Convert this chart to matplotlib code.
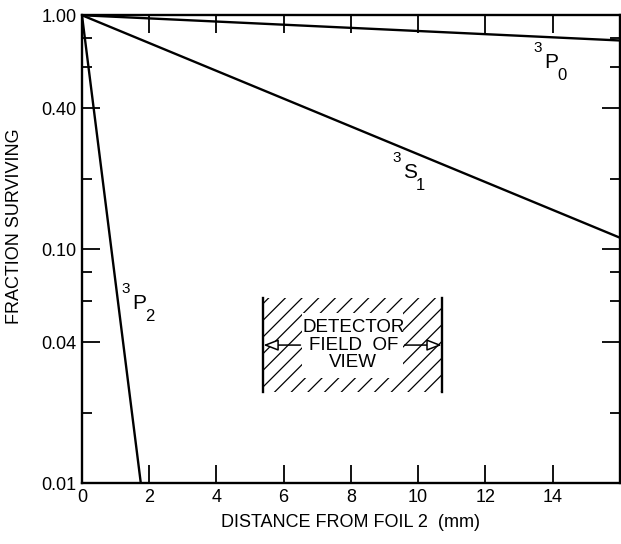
import matplotlib
matplotlib.use("Agg")
import matplotlib.pyplot as plt
from matplotlib.patches import Rectangle

plt.rcParams['font.family'] = ['Liberation Sans', 'DejaVu Sans']
plt.rcParams['hatch.linewidth'] = 0.9

# decay curves (distance in mm, fraction surviving)
p0_x = [0.0, 16.0]
p0_y = [1.0, 0.78]
s1_x = [0.0, 16.0]
s1_y = [1.0, 0.112]
p2_x = [0.0, 1.75]
p2_y = [1.0, 0.01]

xticks = [0, 2, 4, 6, 8, 10, 12, 14]
ymajor = [1.0, 0.4, 0.1, 0.04, 0.01]
ymajor_labels = ['1.00', '0.40', '0.10', '0.04', '0.01']
yminor = [0.8, 0.6, 0.2, 0.08, 0.06, 0.02]

# detector field of view
det_x = [5.4, 10.7]
det_y = [0.0245, 0.0618]

fig = plt.figure(figsize=(6.21, 5.44), dpi=100)
ax = fig.add_axes([0.132, 0.112, 0.866, 0.860])
ax.set_yscale('log')
ax.set_xlim(0, 16)
ax.set_ylim(0.01, 1.0)

lw = 1.7
ax.plot(p0_x, p0_y, color='black', lw=lw)
ax.plot(s1_x, s1_y, color='black', lw=lw)
ax.plot(p2_x, p2_y, color='black', lw=lw)

fs = 13


def state_label(x, y, main, sub):
    ax.text(x, y, main, fontsize=15, ha='center', va='center')
    ax.annotate('3', (x, y), xytext=(-9.5, 10.5), textcoords='offset points',
                fontsize=11, ha='center', va='center')
    ax.annotate(sub, (x, y), xytext=(7.5, -9.5), textcoords='offset points',
                fontsize=12, ha='center', va='center')


state_label(13.96, 0.63, 'P', '0')
state_label(9.76, 0.213, 'S', '1')
state_label(1.70, 0.0587, 'P', '2')

# hatched box
ax.add_patch(Rectangle((det_x[0], det_y[0]), det_x[1] - det_x[0], det_y[1] - det_y[0],
                       facecolor='white', edgecolor='black', hatch='//', lw=0, zorder=2))
ax.plot([det_x[0], det_x[0]], det_y, color='black', lw=1.7, zorder=3)
ax.plot([det_x[1], det_x[1]], det_y, color='black', lw=1.7, zorder=3)
ax.add_patch(Rectangle((6.55, 0.0281), 3.0, 0.0532 - 0.0281,
                       facecolor='white', edgecolor='none', zorder=3))
mid_y = 0.0389
ax.text(8.07, mid_y, 'DETECTOR\nFIELD  OF\nVIEW', fontsize=13.5, ha='center', va='center',
        linespacing=1.05, zorder=4)
arrow = dict(arrowstyle='-|>,head_length=0.9,head_width=0.35', facecolor='white',
             edgecolor='black', lw=1.1, shrinkA=0, shrinkB=0)
ax.annotate('', xy=(det_x[0], mid_y), xytext=(6.5, mid_y), arrowprops=arrow, zorder=4)
ax.annotate('', xy=(det_x[1], mid_y), xytext=(9.6, mid_y), arrowprops=arrow, zorder=4)

ax.set_xticks(xticks)
ax.set_xticklabels([str(v) for v in xticks])
ax.xaxis.set_minor_locator(matplotlib.ticker.NullLocator())
ax.set_yticks(ymajor)
ax.set_yticklabels(ymajor_labels)
ax.set_yticks(yminor, minor=True)
ax.yaxis.set_minor_formatter(matplotlib.ticker.NullFormatter())

ax.tick_params(axis='both', which='major', direction='in', length=13, width=1.3,
               top=True, right=True, labelsize=fs, pad=4)
ax.tick_params(axis='y', which='minor', direction='in', length=7, width=1.3, right=True)
for s in ax.spines.values():
    s.set_linewidth(1.7)

ax.set_xlabel('DISTANCE FROM FOIL 2  (mm)', fontsize=fs, labelpad=6)
ax.set_ylabel('FRACTION SURVIVING', fontsize=fs)
ax.yaxis.set_label_coords(-0.11, 0.55)

fig.savefig('out.png', dpi=100)
